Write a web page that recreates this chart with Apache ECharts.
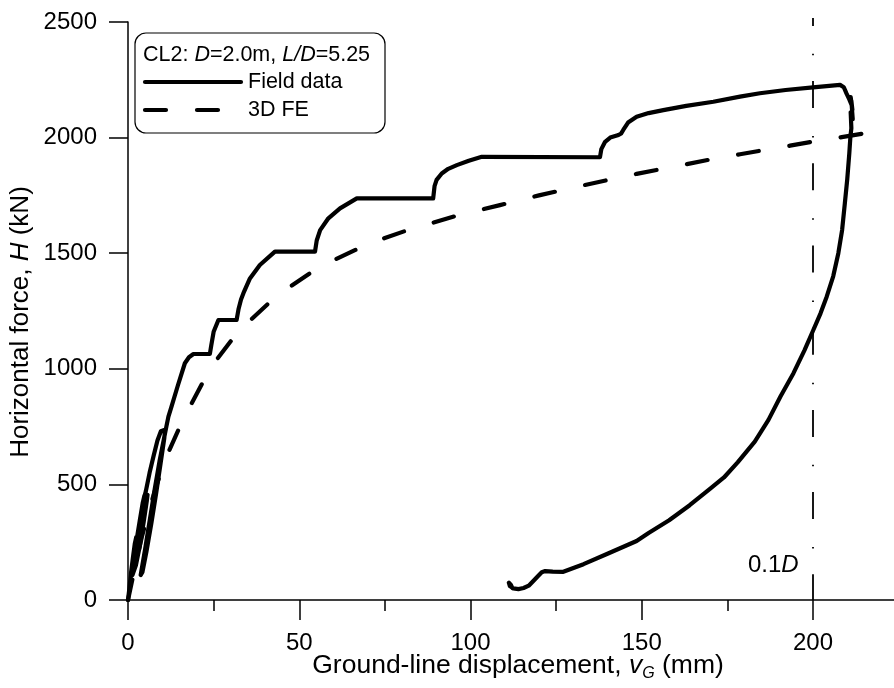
<!DOCTYPE html>
<html><head><meta charset="utf-8">
<script src="https://cdn.jsdelivr.net/npm/echarts@6/dist/echarts.min.js"></script>
<style>html,body{margin:0;padding:0;background:#fff}#c{width:894px;height:688px}</style>
</head><body><div id="c"></div>
<script>
// Field data (ground-line displacement mm, horizontal force kN)
const fieldX = [0,0.4,0.9,1.5,2.0,2.4,3.0,3.3,3.8,4.3,4.8,5.7,
  5.5,4.6,3.4,2.3,1.3,1.1,
  1.6,2.4,3.4,4.3,5.2,6.3,7.5,8.6,9.6,10.8,
  10.6,9.5,8.2,6.8,5.4,4.2,3.7,3.9,
  5.0,6.4,7.8,9.2,10.4,11.2,11.8,12.7,14.6,16.6,17.8,19.1,23.9,24.3,25.0,26.4,31.7,32.3,33.0,33.7,35.6,38.5,42.9,54.6,55.1,56.1,58.5,61.9,66.8,89.1,89.5,90.1,91.6,93.5,96.0,99.5,103.3,137.8,138.2,139.3,140.8,143.2,144.0,144.6,146.0,148.5,152,156.3,163,170.9,178.7,184.5,192,200,207.9,
  209.0,209.8,210.6,211.3,211.0,211.5,211.2,211.6,211.0,211.2,210.9,210.6,210.0,209.3,208.5,207.4,205.9,204.0,202.2,200.1,197.5,194.3,190.5,187,183,178,174,170,164,158,152,148.5,140,133,127.1,124,121.8,120.8,119.8,118.2,117.0,115.5,114,112.5,111.5,111.2,111.8,112.2];
const fieldH = [0,50,120,190,245,272,276,300,360,420,452,455,
  430,340,230,150,108,112,
  170,250,340,420,470,550,625,690,730,737,
  700,590,460,330,210,120,108,125,
  220,350,480,600,690,750,793,836,930,1024,1050,1064,1064,1100,1160,1211,1211,1260,1300,1327,1391,1449,1507,1507,1555,1600,1651,1694,1737,1737,1790,1817,1845,1865,1881,1900,1917,1915,1950,1982,2000,2011,2018,2033,2065,2090,2106,2119,2137,2155,2177,2192,2206,2217,2228,
  2218,2190,2165,2140,2175,2120,2160,2080,2110,2040,2000,1932,1820,1716,1600,1500,1400,1312,1240,1168,1080,981,880,779,685,595,530,482,410,345,290,255,200,155,122,123,125,120,105,80,62,52,47,50,60,75,65,52];
// 3D FE
const feX = [0,2,4,6,8,10,12.1,14.7,18.6,21.5,25.9,30.3,36.1,41,47.3,53.1,60.4,66.8,74.5,80.9,89.1,95.5,103.7,108.6,120,133.4,140.2,148.5,155.3,163.1,169.9,178.7,184.5,193.3,199.6,208.4,215.2];
const feH = [0,140,270,380,480,570,649,735,851,932,1040,1125,1215,1283,1355,1413,1472,1517,1563,1596,1632,1660,1690,1708,1750,1795,1817,1843,1863,1885,1905,1928,1943,1965,1982,2002,2019];
// 0.1D reference line
const refX = [200,200];
const refH = [0,2517];

const FONT = '"Liberation Sans", Arial, Helvetica, sans-serif';
const zip = (a,b)=>a.map((v,i)=>[v,b[i]]);
const axisStyle = {color:'#000', width:1.5};
const chart = echarts.init(document.getElementById('c'), null, {renderer:'canvas'});
chart.setOption({
  animation:false,
  backgroundColor:'#fff',
  grid:{left:128, top:22, width:856.25, height:578, outerBoundsMode:'none', containLabel:false},
  xAxis:{type:'value', min:0, max:250, interval:50,
    axisLine:{show:true, onZero:false, lineStyle:axisStyle},
    axisTick:{show:true, inside:false, length:20, lineStyle:axisStyle},
    minorTick:{show:true, splitNumber:2, length:11, lineStyle:axisStyle},
    splitLine:{show:false}, minorSplitLine:{show:false},
    axisLabel:{color:'#000', fontSize:24, fontFamily:FONT, margin:31, formatter:v=> v>=250?'':String(v)}},
  yAxis:{type:'value', min:0, max:2500, interval:500,
    axisLine:{show:true, onZero:false, lineStyle:axisStyle},
    axisTick:{show:true, inside:false, length:19, lineStyle:axisStyle},
    splitLine:{show:false},
    axisLabel:{color:'#000', fontSize:24, fontFamily:FONT, margin:31, formatter:v=>String(v)}},
  series:[
    {type:'line', name:'0.1D', data:zip(refX,refH), showSymbol:false, clip:false, z:1,
      lineStyle:{color:'#000', width:1.8, type:[27,25.75,1.5,27.95], dashOffset:1.3, cap:'butt'}},
    {type:'line', name:'3D FE', data:zip(feX,feH), showSymbol:false, smooth:false, z:2,
      lineStyle:{color:'#000', width:4.2, type:[21,31], cap:'round', join:'round'}},
    {type:'line', name:'Field data', data:zip(fieldX,fieldH), showSymbol:false, smooth:false, z:3,
      lineStyle:{color:'#000', width:4.2, cap:'round', join:'round'}}
  ],
  graphic:[
    {type:'rect', shape:{x:135, y:33, width:250, height:100, r:11}, style:{fill:'#fff', stroke:'#000', lineWidth:1.2}, z:10},
    {type:'text', x:143, y:55, z:11, style:{text:'{n|CL2: }{i|D}{n|=2.0m, }{i|L/D}{n|=5.25}', textVerticalAlign:'middle', verticalAlign:'middle',
      rich:{n:{fontSize:21.5, fontFamily:FONT, fill:'#000', color:'#000'}, i:{fontSize:21.5, fontFamily:FONT, fontStyle:'italic', fill:'#000', color:'#000'}}}},
    {type:'line', shape:{x1:145, y1:82, x2:241, y2:82}, style:{stroke:'#000', lineWidth:4.2, lineCap:'round'}, z:11},
    {type:'text', x:248, y:82, z:11, style:{text:'Field data', font:'21.5px '+FONT, fill:'#000', textVerticalAlign:'middle', verticalAlign:'middle'}},
    {type:'line', shape:{x1:145, y1:110, x2:218, y2:110}, style:{stroke:'#000', lineWidth:4.2, lineCap:'round', lineDash:[21,31]}, z:11},
    {type:'text', x:248, y:110, z:11, style:{text:'3D FE', font:'21.5px '+FONT, fill:'#000', textVerticalAlign:'middle', verticalAlign:'middle'}},
    {type:'text', x:748, y:565, z:11, style:{text:'{n|0.1}{i|D}', textVerticalAlign:'middle', verticalAlign:'middle',
      rich:{n:{fontSize:24, fontFamily:FONT, fill:'#000', color:'#000'}, i:{fontSize:24, fontFamily:FONT, fontStyle:'italic', fill:'#000', color:'#000'}}}},
    {type:'text', x:518, y:666, z:11, style:{text:'{n|Ground-line displacement, }{i|v}{s|G}{n| (mm)}', textAlign:'center', align:'center', textVerticalAlign:'middle', verticalAlign:'middle',
      rich:{n:{fontSize:26.5, fontFamily:FONT, fill:'#000', color:'#000', lineHeight:32}, i:{fontSize:26.5, fontFamily:FONT, fontStyle:'italic', fill:'#000', color:'#000', lineHeight:32},
        s:{fontSize:16, fontFamily:FONT, fontStyle:'italic', fill:'#000', color:'#000', lineHeight:16, verticalAlign:'bottom'}}}},
    {type:'text', x:21, y:322, rotation:Math.PI/2, z:11, style:{text:'{n|Horizontal force, }{i|H}{n| (kN)}', textAlign:'center', align:'center', textVerticalAlign:'middle', verticalAlign:'middle',
      rich:{n:{fontSize:26, fontFamily:FONT, fill:'#000', color:'#000'}, i:{fontSize:26, fontFamily:FONT, fontStyle:'italic', fill:'#000', color:'#000'}}}}
  ]
});
</script></body></html>
